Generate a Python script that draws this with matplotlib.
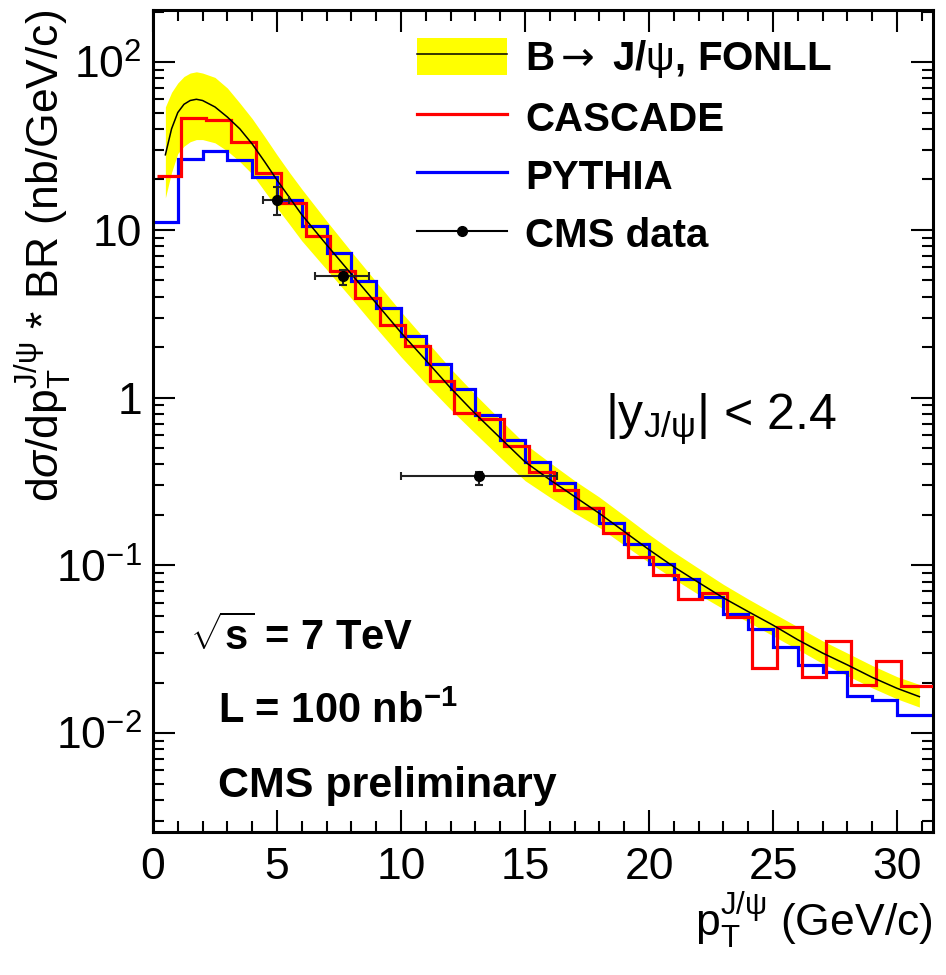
import numpy as np
import matplotlib
matplotlib.use("Agg")
import matplotlib.pyplot as plt
from matplotlib.lines import Line2D
from matplotlib.patches import Patch
from matplotlib.ticker import FixedLocator, FixedFormatter, LogLocator, MultipleLocator, NullFormatter

plt.rcParams["font.family"] = ["Liberation Sans", "DejaVu Sans"]
plt.rcParams["mathtext.fontset"] = "custom"
plt.rcParams["mathtext.rm"] = "Liberation Sans"
plt.rcParams["mathtext.it"] = "Liberation Sans:italic"
plt.rcParams["mathtext.bf"] = "Liberation Sans:bold"
plt.rcParams["mathtext.sf"] = "DejaVu Sans"

# FONLL B -> J/psi prediction: central curve and uncertainty band
fonll_pt = [0.5, 0.75, 1, 1.25, 1.5, 1.75, 2, 2.5, 3, 3.5, 4, 4.5, 5, 5.5, 6, 7, 8, 9,
            10, 11, 12, 13, 14, 15, 16, 17, 18, 19, 20, 21, 22, 23, 24, 25, 26, 27,
            28, 29, 30, 30.9]
fonll_central = [28, 40, 50, 56, 59, 60, 59, 54, 47, 40, 32.5, 25.5, 19.8, 15.6, 12.3,
                 8.15, 5.45, 3.65, 2.44, 1.67, 1.14, 0.80, 0.575, 0.414, 0.324, 0.257,
                 0.204, 0.159, 0.124, 0.098, 0.079, 0.064, 0.053, 0.044, 0.036, 0.030,
                 0.0255, 0.0215, 0.0185, 0.0165]
fonll_upper = [54, 66, 75, 82, 86, 87.5, 86, 81, 70, 57, 46, 36, 28, 22, 17.5, 11.3,
               7.4, 4.9, 3.25, 2.2, 1.49, 1.04, 0.74, 0.53, 0.41, 0.32, 0.255, 0.198,
               0.153, 0.12, 0.096, 0.077, 0.063, 0.052, 0.043, 0.0355, 0.030, 0.0253,
               0.0217, 0.0195]
fonll_lower = [15.5, 22, 28.5, 31.5, 33.5, 34.5, 34.5, 33, 29.5, 25.5, 21.5, 17, 13.5,
               10.8, 8.6, 5.8, 3.9, 2.6, 1.75, 1.21, 0.85, 0.61, 0.44, 0.32, 0.255,
               0.205, 0.168, 0.132, 0.104, 0.083, 0.067, 0.055, 0.046, 0.038, 0.0315,
               0.026, 0.022, 0.0186, 0.016, 0.0143]

# Monte Carlo histograms, 1 GeV/c bins (last bin up to 32)
pythia_edges = list(range(0, 31)) + [32]
pythia = [11.2, 26.4, 29.5, 26.1, 20.6, 15.1, 10.6, 7.26, 4.95, 3.4, 2.34, 1.59, 1.12,
          0.79, 0.556, 0.412, 0.308, 0.22, 0.178, 0.135, 0.102, 0.0834, 0.065, 0.051,
          0.042, 0.0328, 0.0254, 0.023, 0.0167, 0.0158, 0.0128]
cascade_edges = [e + 0.15 for e in range(0, 31)] + [32]
cascade = [21.0, 46.3, 45.2, 33.6, 21.7, 14.4, 9.15, 5.7, 3.95, 2.7, 2.02, 1.25, 0.81,
           0.75, 0.515, 0.36, 0.283, 0.22, 0.156, 0.112, 0.088, 0.0632, 0.0688, 0.0494,
           0.0246, 0.0431, 0.0217, 0.0355, 0.0193, 0.0269, 0.0191]

# CMS data points
data_pt = [5.0, 7.65, 13.15]
data_pt_lo = [0.55, 1.1, 3.15]
data_pt_hi = [0.5, 1.07, 3.15]
data_y = [15.1, 5.32, 0.34]
data_y_lo = [2.8, 0.6, 0.04]
data_y_hi = [3.0, 0.46, 0.02]

fig = plt.figure(figsize=(9.46, 9.75), dpi=100)
ax = fig.add_axes([0.1617, 0.1467, 0.8246, 0.843])

ax.fill_between(fonll_pt, fonll_lower, fonll_upper, color="#ffff00", lw=0, zorder=1)
ax.stairs(pythia, pythia_edges, baseline=None, color="#0000ff", lw=2.3, zorder=2)
ax.stairs(cascade, cascade_edges, baseline=None, color="#ff0000", lw=2.3, zorder=3)
ax.plot(fonll_pt, fonll_central, color="black", lw=1.1, zorder=4)
ax.errorbar(data_pt, data_y, xerr=[data_pt_lo, data_pt_hi], yerr=[data_y_lo, data_y_hi],
            fmt="o", color="black", ecolor="#222222", ms=7, elinewidth=1.5, capsize=3,
            capthick=1.5, zorder=5)

ax.set_yscale("log")
ax.set_xlim(0, 31.45)
ax.set_ylim(10 ** -2.589, 10 ** 2.31)

ax.xaxis.set_major_locator(MultipleLocator(5))
ax.xaxis.set_minor_locator(MultipleLocator(1))
ax.yaxis.set_major_locator(FixedLocator([1e-2, 1e-1, 1, 10, 100]))
ax.yaxis.set_major_formatter(FixedFormatter([r"$10^{-2}$", r"$10^{-1}$", "1", "10", r"$10^{2}$"]))
ax.yaxis.set_minor_locator(LogLocator(base=10, subs=np.arange(2, 10), numticks=20))
ax.yaxis.set_minor_formatter(NullFormatter())

ax.tick_params(which="both", direction="in", top=True, right=True, width=1.5)
ax.tick_params(which="major", length=16, labelsize=32)
ax.tick_params(axis="y", which="major", pad=8)
ax.tick_params(axis="x", which="major", pad=11)
ax.tick_params(which="minor", length=8)
for s in ax.spines.values():
    s.set_linewidth(2.2)

ax.set_ylabel(r"d$\sigma$/dp$_{\rm T}^{\rm J/\psi}$ * BR (nb/GeV/c)", fontsize=32, loc="top")
ax.yaxis.set_label_coords(-0.101, 1.0)
ax.set_xlabel(r"p$_{\rm T}^{\rm J/\psi}$ (GeV/c)", fontsize=32, loc="right")
ax.xaxis.set_label_coords(1.0, -0.07)

ax.text(0.579, 0.489, r"|y$_{\rm J/\psi}$| < 2.4", transform=ax.transAxes, fontsize=36,
        va="baseline")
ax.text(0.047, 0.221, r"$\sqrt{\mathbf{s}}$ = 7 TeV", transform=ax.transAxes, fontsize=30,
        fontweight="bold", va="baseline")
ax.text(0.083, 0.1326, r"L = 100 nb$^{\mathbf{-1}}$", transform=ax.transAxes, fontsize=30,
        fontweight="bold", va="baseline")
ax.text(0.083, 0.0426, "CMS preliminary", transform=ax.transAxes, fontsize=31,
        fontweight="bold", va="baseline")

handles = [
    (Patch(facecolor="#ffff00", edgecolor="none"), Line2D([], [], color="black", lw=1.1)),
    Line2D([], [], color="#ff0000", lw=2.3),
    Line2D([], [], color="#0000ff", lw=2.3),
    Line2D([], [], color="black", lw=1.5, marker="o", ms=7),
]
labels = [r"B$\mathsf{\rightarrow}$ J/$\mathrm{\psi}$, FONLL", "CASCADE", "PYTHIA", "CMS data"]
ax.legend(handles, labels, loc="upper left", bbox_to_anchor=(0.338, 0.966),
          frameon=False, borderpad=0, borderaxespad=0, handlelength=2.25,
          handleheight=1.05, handletextpad=0.45, labelspacing=0.44, numpoints=1,
          prop={"weight": "bold", "size": 29})

fig.savefig("out.png", dpi=100)
